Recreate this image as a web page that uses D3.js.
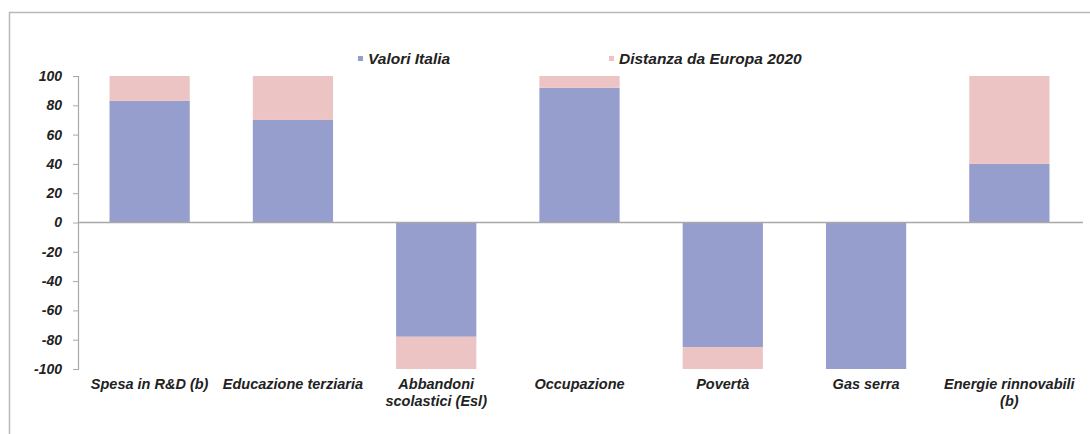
<!DOCTYPE html>
<html><head><meta charset="utf-8">
<script src="https://cdn.jsdelivr.net/npm/d3@7"></script>
<style>body{margin:0;background:#fff}svg{display:block}text{font-family:"Liberation Sans",Arial,sans-serif;font-weight:bold;font-style:italic;font-size:14.5px;fill:#222}</style>
</head><body><svg id="c" width="1090" height="434"></svg>
<script>
const categories = [["Spesa in R&D (b)"],["Educazione terziaria"],["Abbandoni","scolastici (Esl)"],["Occupazione"],["Povertà"],["Gas serra"],["Energie rinnovabili","(b)"]];
const valoriItalia = [83, 70, -78, 92, -85, -100, 40];
const distanzaEuropa = [17, 30, -22, 8, -15, 0, 60];
const yTicks = [100, 80, 60, 40, 20, 0, -20, -40, -60, -80, -100];
const seriesNames = ["Valori Italia", "Distanza da Europa 2020"];
const colors = ["#959ecd", "#ecc4c4"];

const svg = d3.select("#c");
// frame
svg.append("path").attr("d","M9.5,434 V12.5 H1090").attr("fill","none").attr("stroke","#b8b8b8").attr("stroke-width",1.5);

const x = d3.scaleBand().domain(d3.range(categories.length)).range([78,1081]).paddingInner(0.44).paddingOuter(0.22);
const y = d3.scaleLinear().domain([-100,100]).range([369,76]);

// bars
const g = svg.append("g");
categories.forEach((c,i)=>{
  const v = valoriItalia[i], d = distanzaEuropa[i];
  g.append("rect").attr("x",x(i)).attr("width",x.bandwidth())
    .attr("y",y(Math.max(0,v))).attr("height",Math.abs(y(v)-y(0))).attr("fill",colors[0]);
  if (d!==0) {
    const a=v, b=v+d;
    g.append("rect").attr("x",x(i)).attr("width",x.bandwidth())
      .attr("y",y(Math.max(a,b))).attr("height",Math.abs(y(a)-y(b))).attr("fill",colors[1]);
  }
});

// zero line
svg.append("line").attr("x1",78).attr("x2",1083).attr("y1",y(0)).attr("y2",y(0)).attr("stroke","#a8a8a8").attr("stroke-width",1.5);

// y axis
const ya = svg.append("g").attr("transform","translate(78,0)").call(d3.axisLeft(y).tickValues(yTicks).tickFormat(d=>String(d)).tickSize(5).tickPadding(11));
ya.select(".domain").attr("stroke","#a8a8a8").attr("stroke-width",1.2);
ya.selectAll(".tick line").attr("stroke","#a8a8a8");
ya.selectAll("text").attr("font-size",null).attr("font-family",null).style("font-size","14px").style("fill","#222");

// x labels
categories.forEach((c,i)=>{
  const t = svg.append("text").attr("x",x(i)+x.bandwidth()/2).attr("y",389).attr("text-anchor","middle");
  c.forEach((line,j)=>t.append("tspan").attr("x",x(i)+x.bandwidth()/2).attr("dy",j?17:0).text(line));
});

// legend
const lx = [358, 609];
seriesNames.forEach((s,i)=>{
  svg.append("rect").attr("x",lx[i]).attr("y",56).attr("width",5).attr("height",5).attr("fill",colors[i]);
  svg.append("text").attr("x",lx[i]+10).attr("y",64).style("font-size","15.5px").text(s);
});
</script></body></html>
